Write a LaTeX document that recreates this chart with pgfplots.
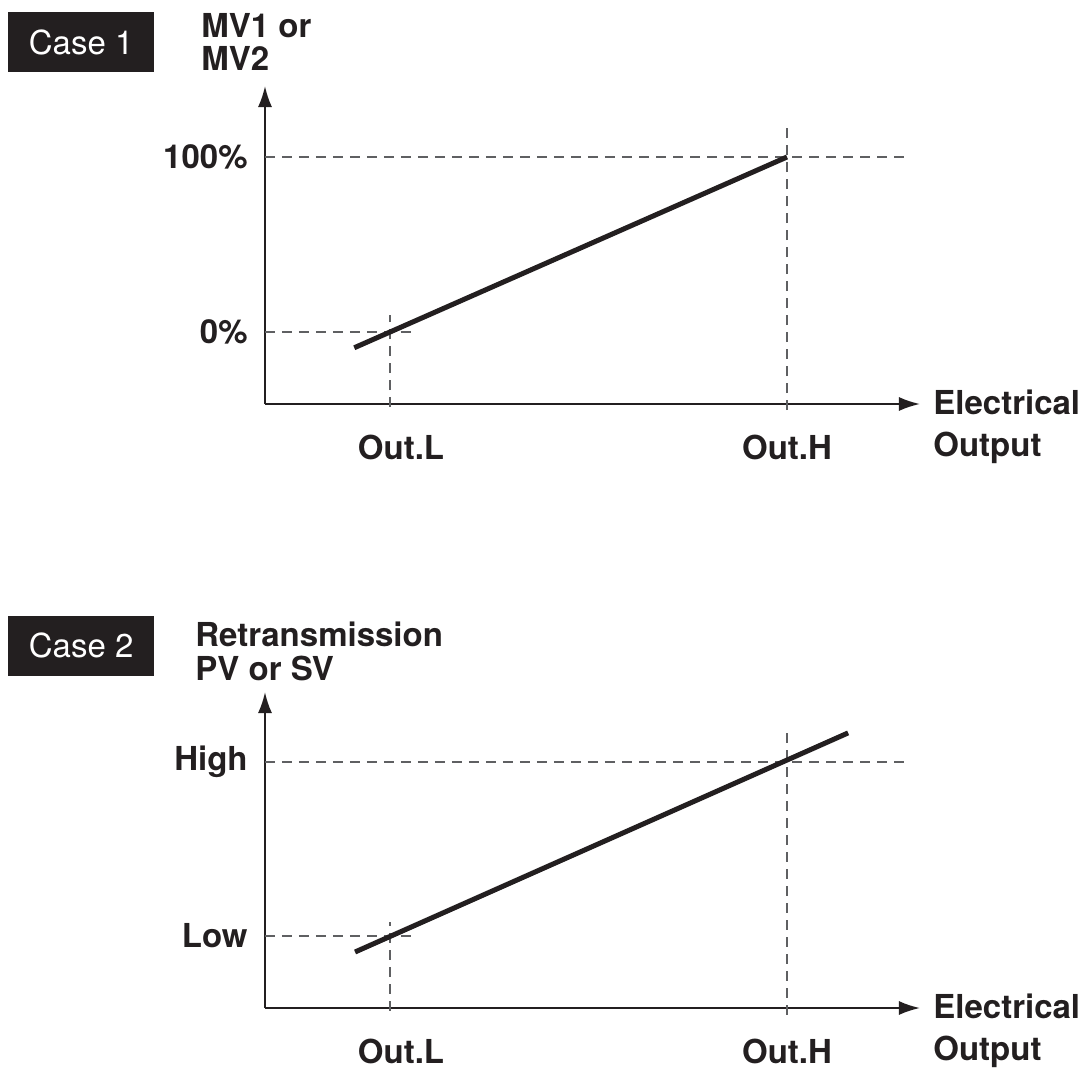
\documentclass[border=0pt]{standalone}
\usepackage{fontspec}
\setmainfont{TeX Gyre Heros}
\usepackage{pgfplots}
\pgfplotsset{compat=1.18}
\usetikzlibrary{arrows.meta}
\definecolor{ink}{HTML}{231F20}
\definecolor{dashgray}{HTML}{5F6062}

\tikzset{casebox/.style={fill=ink, text=white, minimum width=73pt, minimum height=30pt, inner sep=0pt, font=\fontsize{16.5}{20}\selectfont}}
\pgfplotsset{
 diag/.style={
  scale only axis, width=327.5pt,
  axis lines=left,
  axis line style={line width=1pt, draw=ink, -{Latex[length=10.5pt,width=7pt]}},
  xtick={0,100}, ytick={0,100},
  major tick length=0pt,
  tick label style={font=\fontsize{16.5}{20}\selectfont\bfseries, text=ink, inner sep=0pt},
  xticklabel style={anchor=north, yshift=-15.5pt},
  yticklabel style={anchor=east, xshift=-8.5pt},
  xticklabels={\hspace*{11pt}Out.L, Out.H},
  xlabel={Electrical\\Output},
  every axis x label/.style={at={(axis description cs:1,0)}, anchor=north west, xshift=6.5pt, yshift=7pt, align=left, inner sep=0pt, font=\fontsize{16.5}{20.8}\selectfont\bfseries, text=ink},
  clip=false,
 },
 dashln/.style={dashgray, line width=0.75pt, dash pattern=on 5pt off 3.5pt, forget plot},
 mainln/.style={ink, line width=2.5pt, line cap=butt},
}

\begin{document}
\begin{tikzpicture}
\useasboundingbox (-132.5pt,-334pt) rectangle (411pt,202pt);
% ---- Case 1 ----
\begin{axis}[diag, height=159pt,
  xmin=-31.49, xmax=133.5, ymin=-41.14, ymax=140.57,
  yticklabels={0\%, 100\%},
  ylabel={MV1 or\\MV2},
  every axis y label/.style={at={(axis description cs:0,1)}, anchor=south west, xshift=-32pt, yshift=7.5pt, align=left, inner sep=0pt, font=\fontsize{16.5}{16.5}\selectfont\bfseries, text=ink},
  at={(0pt,0pt)}, anchor=south west]
  \addplot[dashln] coordinates {(-31.49,100) (130.5,100)};
  \addplot[dashln] coordinates {(100,-44.6) (100,118.3)};
  \addplot[dashln] coordinates {(-31.49,0) (7,0)};
  \addplot[dashln] coordinates {(0,-42.9) (0,9.7)};
  \addplot[mainln] coordinates {(-9,-9) (100,100)};
  \node[casebox] at (axis cs:-77.8,165.7) {Case 1};
\end{axis}
% ---- Case 2 ----
\begin{axis}[diag, height=158pt,
  xmin=-31.49, xmax=133.5, ymin=-41.4, ymax=140.2,
  yticklabels={Low, High},
  ylabel={Retransmission\\PV or SV},
  every axis y label/.style={at={(axis description cs:0,1)}, anchor=south west, xshift=-35pt, yshift=5.5pt, align=left, inner sep=0pt, font=\fontsize{16.5}{17}\selectfont\bfseries, text=ink},
  at={(0pt,-302pt)}, anchor=south west]
  \addplot[dashln] coordinates {(-31.49,100) (130.5,100)};
  \addplot[dashln] coordinates {(100,-45.4) (100,119)};
  \addplot[dashln] coordinates {(-31.49,0) (7,0)};
  \addplot[dashln] coordinates {(0,-43.1) (0,8.05)};
  \addplot[mainln] coordinates {(-8.8,-9.2) (115.4,116.7)};
  \node[casebox] at (axis cs:-77.8,166.7) {Case 2};
\end{axis}
\end{tikzpicture}
\end{document}
